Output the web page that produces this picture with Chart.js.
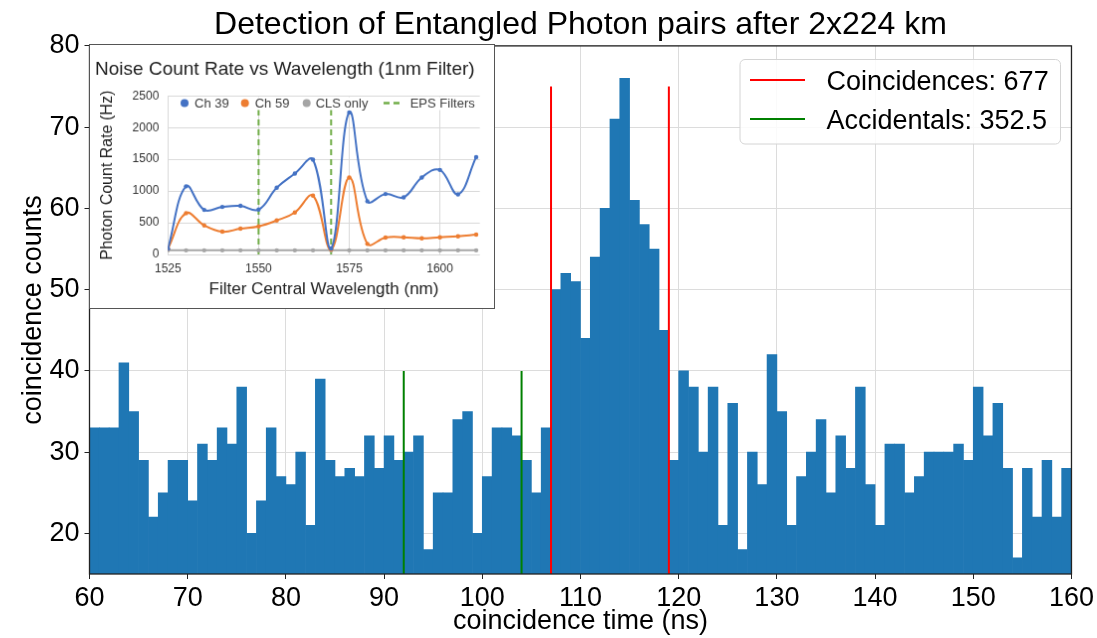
<!DOCTYPE html>
<html><head><meta charset="utf-8">
<script src="https://cdn.jsdelivr.net/npm/chart.js@4.4.1/dist/chart.umd.min.js"></script>
<style>
html,body{margin:0;padding:0;background:#fff;}
#wrap{position:relative;width:1097px;height:638px;overflow:hidden;}
#main{position:absolute;left:0;top:0;}
#inset{position:absolute;left:89px;top:44px;border:1px solid #555;background:#fff;}
</style></head><body>
<div id="wrap">
<canvas id="main" width="1097" height="638"></canvas>
<canvas id="inset" width="406" height="265"></canvas>
</div>
<script>
// ---------- main histogram data ----------
const mainTitle = 'Detection of Entangled Photon pairs after 2x224 km';
const xAxisTitle = 'coincidence time (ns)';
const yAxisTitle = 'coincidence counts';
const binLeftEdges = [60,61,62,63,64,65,66,67,68,69,70,71,72,73,74,75,76,77,78,79,
  80,81,82,83,84,85,86,87,88,89,90,91,92,93,94,95,96,97,98,99,
  100,101,102,103,104,105,106,107,108,109,110,111,112,113,114,115,116,117,118,119,
  120,121,122,123,124,125,126,127,128,129,130,131,132,133,134,135,136,137,138,139,
  140,141,142,143,144,145,146,147,148,149,150,151,152,153,154,155,156,157,158,159];
const binWidth = 1;
const binCounts = [33,33,33,41,35,29,22,25,29,29,24,31,29,33,31,38,20,24,33,27,
  26,30,21,39,29,27,28,27,32,28,32,29,30,32,18,25,25,34,35,20,
  27,33,33,32,29,25,33,50,52,51,44,54,60,71,76,61,58,55,45,29,
  40,38,30,38,21,36,18,30,26,42,35,21,27,30,34,25,32,28,38,26,
  21,31,31,25,27,30,30,30,31,29,38,32,36,28,17,28,22,29,22,28];
const xTickValues = [60,70,80,90,100,110,120,130,140,150,160];
const yTickValues = [20,30,40,50,60,70,80];
const xRange = [60,160];
const yRange = [15,80];
const coincidenceLabel = 'Coincidences: 677';
const coincidenceWindow = [107,119];
const coincidenceLineTop = 75;
const accidentalLabel = 'Accidentals: 352.5';
const accidentalWindow = [92,104];
const accidentalLineTop = 40;

// ---------- inset data ----------
const insetTitle = 'Noise Count Rate vs Wavelength (1nm Filter)';
const insetXTitle = 'Filter Central Wavelength (nm)';
const insetYTitle = 'Photon Count Rate (Hz)';
const wavelengths = [1525,1530,1535,1540,1545,1550,1555,1560,1565,1570,1575,1580,1585,1590,1595,1600,1605,1610];
const ch39 = [90,1075,703,750,766,708,1052,1276,1495,94,2240,839,953,901,1214,1333,948,1536];
const ch59 = [90,651,458,359,406,443,536,661,927,78,1214,167,266,271,255,271,286,312];
const clsOnly = [65,65,65,65,65,65,65,65,65,65,65,65,65,65,65,65,65,65];
const epsFilters = [1550,1570];
const insetXTicks = [1525,1550,1575,1600];
const insetYTicks = [0,500,1000,1500,2000,2500];
const insetXRange = [1525,1611];
const insetYRange = [0,2500];

const FONT = "'Liberation Sans', Arial, Helvetica, sans-serif";
Chart.defaults.font.family = FONT;
Chart.defaults.color = '#000';

// ---------- plugins ----------
const centerTitleOnAxes = {
  id: 'centerTitleOnAxes',
  afterLayout(chart) {
    if (chart.titleBlock) {
      chart.titleBlock.left = chart.chartArea.left;
      chart.titleBlock.right = chart.chartArea.right;
      chart.titleBlock.width = chart.chartArea.right - chart.chartArea.left;
    }
  }
};
const spines = {
  id: 'spines',
  afterDatasetsDraw(chart) {
    const {ctx, chartArea: a} = chart;
    ctx.save();
    ctx.strokeStyle = '#222';
    ctx.lineWidth = 1.3;
    ctx.strokeRect(a.left, a.top, a.right - a.left, a.bottom - a.top);
    ctx.restore();
  }
};
const mainLegend = {
  id: 'mainLegend',
  afterDraw(chart) {
    const ctx = chart.ctx;
    ctx.save();
    ctx.beginPath();
    ctx.roundRect(740, 59.5, 320.5, 84.5, 5);
    ctx.fillStyle = 'rgba(255,255,255,0.85)';
    ctx.fill();
    ctx.strokeStyle = '#d4d4d4';
    ctx.lineWidth = 1;
    ctx.stroke();
    const items = chart.data.datasets.filter(d => d.inLegend);
    items.forEach((d, i) => {
      const cy = 80 + i * 39;
      ctx.strokeStyle = d.borderColor;
      ctx.lineWidth = 2;
      ctx.beginPath(); ctx.moveTo(750, cy); ctx.lineTo(805, cy); ctx.stroke();
      ctx.fillStyle = '#000';
      ctx.font = '27px ' + FONT;
      ctx.textBaseline = 'alphabetic';
      ctx.fillText(d.label, 826.5, cy + 10);
    });
    ctx.restore();
  }
};

function vlineSets(xs, top, label, color) {
  return xs.map((x, i) => ({
    type: 'line', label: label, inLegend: i === 0,
    data: [{x: x, y: yRange[0]}, {x: x, y: top}],
    borderColor: color, backgroundColor: color, borderWidth: 2,
    pointRadius: 0, order: 0
  }));
}

new Chart(document.getElementById('main'), {
  type: 'bar',
  data: {
    datasets: [
      {
        type: 'bar', label: 'counts',
        data: binLeftEdges.map((b, i) => ({x: b + binWidth / 2, y: binCounts[i]})),
        backgroundColor: '#1f77b4', borderWidth: 0,
        barPercentage: 1, categoryPercentage: 1, order: 1
      },
      ...vlineSets(coincidenceWindow, coincidenceLineTop, coincidenceLabel, '#ff0000'),
      ...vlineSets(accidentalWindow, accidentalLineTop, accidentalLabel, '#008000')
    ]
  },
  options: {
    responsive: false, animation: false, devicePixelRatio: 1,
    layout: {padding: {left: 0, right: 23.3, top: 0, bottom: 0}},
    plugins: {
      legend: {display: false}, tooltip: {enabled: false},
      title: {display: true, text: mainTitle, color: '#000',
        font: {size: 32, weight: 'normal', family: FONT}, padding: {top: 6, bottom: 1.5}}
    },
    scales: {
      x: {
        type: 'linear', min: xRange[0], max: xRange[1], offset: false,
        grid: {color: '#dcdcdc', lineWidth: 1, tickColor: '#222', tickLength: 5, offset: false},
        border: {display: false},
        ticks: {font: {size: 27}, color: '#000', padding: 3, maxRotation: 0, autoSkip: false,
          callback: v => String(v)},
        afterBuildTicks: a => { a.ticks = xTickValues.map(v => ({value: v})); },
        afterFit: s => { s.height = 64; },
        title: {display: true, text: xAxisTitle, color: '#000', font: {size: 27}, padding: {top: 0, bottom: 0}}
      },
      y: {
        type: 'linear', min: yRange[0], max: yRange[1],
        grid: {color: '#dcdcdc', lineWidth: 1, tickColor: '#222', tickLength: 5},
        border: {display: false},
        ticks: {font: {size: 27}, color: '#000', padding: 5, autoSkip: false,
          callback: v => String(v)},
        afterBuildTicks: a => { a.ticks = yTickValues.map(v => ({value: v})); },
        afterFit: s => { s.width = 89.5; },
        title: {display: true, text: yAxisTitle, color: '#000', font: {size: 27}, padding: {top: 17, bottom: 0}}
      }
    }
  },
  plugins: [centerTitleOnAxes, spines, mainLegend]
});

// ---------- inset ----------
const insetLegend = {
  id: 'insetLegend',
  afterDraw(chart) {
    const ctx = chart.ctx;
    ctx.save();
    ctx.fillStyle = '#fff';
    ctx.fillRect(88, 52.5, 302, 13);
    const cy = 58.5;
    const ds = chart.data.datasets.filter(d => d.inLegend);
    const dotX = [95, 155.7, 217.7];
    const textX = [105, 165.7, 226.7, 321.7];
    ctx.font = '13px ' + FONT;
    ctx.textBaseline = 'middle';
    ds.forEach((d, i) => {
      if (d.isDash) {
        ctx.strokeStyle = d.borderColor; ctx.lineWidth = 2.5;
        ctx.setLineDash([6, 4]);
        ctx.beginPath(); ctx.moveTo(295, cy); ctx.lineTo(314, cy); ctx.stroke();
        ctx.setLineDash([]);
      } else {
        ctx.fillStyle = d.borderColor;
        ctx.beginPath(); ctx.arc(dotX[i], cy, 4, 0, Math.PI * 2); ctx.fill();
      }
      ctx.fillStyle = '#404040';
      ctx.fillText(d.label, textX[i], cy + 0.5);
    });
    ctx.restore();
  }
};
function series(vals, label, color) {
  return {label: label, inLegend: true,
    data: wavelengths.map((w, i) => ({x: w, y: vals[i]})),
    borderColor: color, backgroundColor: color, borderWidth: 2,
    pointRadius: 2.2, pointBorderWidth: 0, tension: 0.4};
}
new Chart(document.getElementById('inset'), {
  type: 'line',
  data: {
    datasets: [
      series(ch39, 'Ch 39', '#4472C4'),
      series(ch59, 'Ch 59', '#ED7D31'),
      series(clsOnly, 'CLS only', '#A5A5A5'),
      ...epsFilters.map((x, i) => ({
        label: 'EPS Filters', inLegend: i === 0, isDash: true,
        data: [{x: x, y: insetYRange[0]}, {x: x, y: insetYRange[1]}],
        borderColor: '#70AD47', borderWidth: 2, borderDash: [6, 4], pointRadius: 0
      }))
    ]
  },
  options: {
    responsive: false, animation: false, devicePixelRatio: 1,
    layout: {padding: {left: 0, right: 14.3, top: 0, bottom: 0}},
    plugins: {
      legend: {display: false}, tooltip: {enabled: false},
      title: {display: true, text: insetTitle, color: '#222',
        font: {size: 19, weight: 'normal', family: FONT}, padding: {top: 13, bottom: 15.5}}
    },
    scales: {
      x: {
        type: 'linear', min: insetXRange[0], max: insetXRange[1],
        grid: {color: '#d9d9d9', lineWidth: 1, drawTicks: false},
        border: {display: false},
        ticks: {font: {size: 12}, color: '#333', padding: 7, maxRotation: 0, autoSkip: false,
          callback: v => String(v)},
        afterBuildTicks: a => { a.ticks = insetXTicks.map(v => ({value: v})); },
        afterFit: s => { s.height = 54; },
        title: {display: true, text: insetXTitle, color: '#222', font: {size: 17}, padding: {top: 0, bottom: 8.8}}
      },
      y: {
        type: 'linear', min: insetYRange[0], max: insetYRange[1],
        grid: {color: '#d9d9d9', lineWidth: 1, drawTicks: false},
        border: {display: false},
        ticks: {font: {size: 12}, color: '#333', padding: 9, autoSkip: false,
          callback: v => String(v)},
        afterBuildTicks: a => { a.ticks = insetYTicks.map(v => ({value: v})); },
        afterFit: s => { s.width = 78.3; },
        title: {display: true, text: insetYTitle, color: '#222', font: {size: 16}, padding: {top: 8, bottom: 0}}
      }
    }
  },
  plugins: [insetLegend]
});
</script>
</body></html>
